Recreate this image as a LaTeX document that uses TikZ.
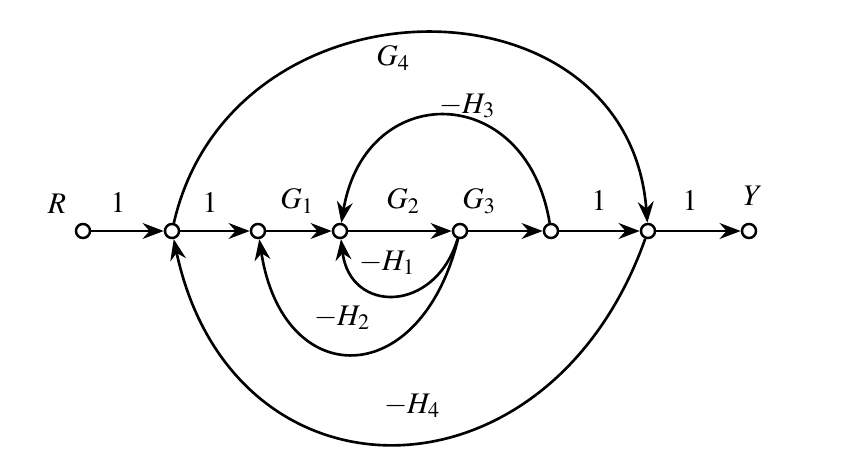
\documentclass[tikz,border=0pt]{standalone}
\usepackage{mathptmx}
\usetikzlibrary{arrows.meta}
\tikzstyle{arrow} = [line width=1.5pt,-{Stealth[length=12pt,width=9pt]}]
\tikzstyle{vertex} = [circle,draw,line width=1.4pt,fill=white,inner sep=0pt,minimum size=8pt]

\begin{document}
\begin{tikzpicture}[x=0.02cm,y=0.02cm,font=\fontsize{17}{20}\selectfont]
		\useasboundingbox (0,0) rectangle (860,461);
		\node[vertex] (R) at (83,230) {};
		\node[vertex] (n1) at (172,230) {};
		\node[vertex] (n2) at (258,230) {};
		\node[vertex] (n3) at (340,230) {};
		\node[vertex] (n4) at (460,230) {};
		\node[vertex] (n5) at (551,230) {};
		\node[vertex] (n6) at (648,230) {};
		\node[vertex] (Y) at (749,230) {};
		\node (lR) at (57,257) {$R$};
		\node (l1) at (118,258) {$1$};
		\node (l2) at (210,258) {$1$};
		\node (lG1) at (297,260) {$G_1$};
		\node (lG2) at (403,260) {$G_2$};
		\node (lG3) at (479,260) {$G_3$};
		\node (l5) at (599,260) {$1$};
		\node (l6) at (690,260) {$1$};
		\node (lY) at (753,265) {$Y$};
		\node (lG4) at (393,403) {$G_4$};
		\node (lH3) at (467,355) {$-H_3$};
		\node (lH1) at (387,198) {$-H_1$};
		\node (lH2) at (342,143) {$-H_2$};
		\node (lH4) at (412,55) {$-H_4$};
		\draw [arrow] (R) -- (n1);
		\draw [arrow] (n1) -- (n2);
		\draw [arrow] (n2) -- (n3);
		\draw [arrow] (n3) -- (n4);
		\draw [arrow] (n4) -- (n5);
		\draw [arrow] (n5) -- (n6);
		\draw [arrow] (n6) -- (Y);
		\draw [arrow] (n1) .. controls +(60,261) and +(-20,261) .. (n6);
		\draw [arrow] (n5) .. controls +(-25,151) and +(25,151) .. (n3);
		\draw [arrow] (n4) .. controls +(-25,-83) and +(10,-83) .. (n3);
		\draw [arrow] (n4) .. controls +(-40,-161) and +(25,-161) .. (n2);
		\draw [arrow] (n6) .. controls +(-100,-281) and +(60,-281) .. (n1);
	\end{tikzpicture}
\end{document}
